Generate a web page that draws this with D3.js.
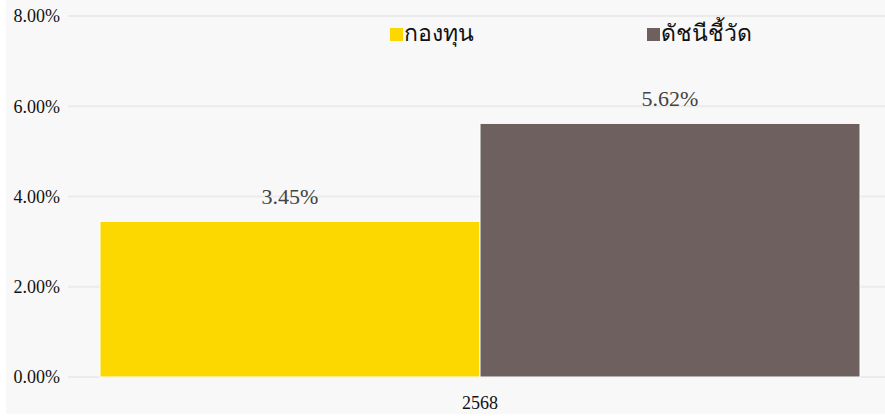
<!DOCTYPE html>
<html>
<head>
<meta charset="utf-8">
<script src="https://cdn.jsdelivr.net/npm/d3@7"></script>
<style>
  body { margin: 0; background: #ffffff; }
  text { font-family: "Liberation Serif", "Times New Roman", serif; }
</style>
</head>
<body>
<div id="chart"></div>
<script>
var categories = ["2568"];
var seriesNames = ["กองทุน", "ดัชนีชี้วัด"];
var fundValues = [3.45];
var indexValues = [5.62];
var yTicks = [0, 2, 4, 6, 8];
var colors = ["#fcd700", "#6f6060"];

var width = 885, height = 416;

var svg = d3.select("#chart")
    .append("svg")
        .attr("width", width)
        .attr("height", height);

svg.append("rect")
    .attr("x", 6)
    .attr("y", 0)
    .attr("width", width - 6)
    .attr("height", height - 2)
    .attr("fill", "#f8f8f8");

var y = d3.scaleLinear()
    .domain([0, 8])
    .range([377, 16]);

var x = d3.scaleBand()
    .domain(categories)
    .range([100, 860])
    .padding(0);

var xSub = d3.scaleBand()
    .domain(seriesNames)
    .range([0, x.bandwidth()])
    .padding(0);

// gridlines
svg.append("g")
    .selectAll("line")
    .data(yTicks)
    .enter().append("line")
    .attr("x1", 68)
    .attr("x2", width)
    .attr("y1", function(d) { return y(d); })
    .attr("y2", function(d) { return y(d); })
    .attr("stroke", "#ebebeb")
    .attr("stroke-width", 2);

// y axis labels
svg.append("g")
    .attr("transform", "translate(60,0)")
    .call(d3.axisLeft(y).tickValues(yTicks).tickSize(0).tickPadding(0)
        .tickFormat(function(d) { return d.toFixed(2) + "%"; }))
    .call(function(g) { g.select(".domain").remove(); })
    .selectAll("text")
    .style("font-size", "18px")
    .style("font-family", "Liberation Serif, serif")
    .attr("fill", "#111");

// x axis
svg.append("g")
    .attr("transform", "translate(0," + 393 + ")")
    .call(d3.axisBottom(x).tickSize(0))
    .call(function(g) { g.select(".domain").remove(); })
    .selectAll("text")
    .style("font-size", "18px")
    .style("font-family", "Liberation Serif, serif")
    .attr("fill", "#111");

var rows = categories.map(function(c, i) {
    return [
        { cat: c, series: seriesNames[0], value: fundValues[i], color: colors[0] },
        { cat: c, series: seriesNames[1], value: indexValues[i], color: colors[1] }
    ];
});

var groups = svg.selectAll(".grp")
    .data(rows)
    .enter().append("g")
    .attr("class", "grp")
    .attr("transform", function(d) { return "translate(" + x(d[0].cat) + ",0)"; });

groups.selectAll("rect")
    .data(function(d) { return d; })
    .enter().append("rect")
    .attr("x", function(d) { return xSub(d.series); })
    .attr("y", function(d) { return y(d.value); })
    .attr("width", xSub.bandwidth())
    .attr("height", function(d) { return y(0) - y(d.value); })
    .attr("fill", function(d) { return d.color; })
    .attr("stroke", "#ffffff")
    .attr("stroke-width", 1);

groups.selectAll(".val")
    .data(function(d) { return d; })
    .enter().append("text")
    .attr("class", "val")
    .attr("x", function(d) { return xSub(d.series) + xSub.bandwidth() / 2; })
    .attr("y", function(d) { return y(d.value) - 17; })
    .attr("text-anchor", "middle")
    .style("font-size", "22px")
    .attr("fill", "#444")
    .text(function(d) { return d.value.toFixed(2) + "%"; });

// legend
var legendX = [390, 647];
var legend = svg.selectAll(".legend")
    .data(seriesNames)
    .enter().append("g")
    .attr("class", "legend")
    .attr("transform", function(d, i) { return "translate(" + legendX[i] + ",28)"; });

legend.append("rect")
    .attr("width", 13)
    .attr("height", 13)
    .attr("fill", function(d, i) { return colors[i]; });

legend.append("text")
    .attr("x", 14)
    .attr("y", 13)
    .style("font-size", "23px")
    .attr("fill", "#111")
    .text(function(d) { return d; });
</script>
</body>
</html>
